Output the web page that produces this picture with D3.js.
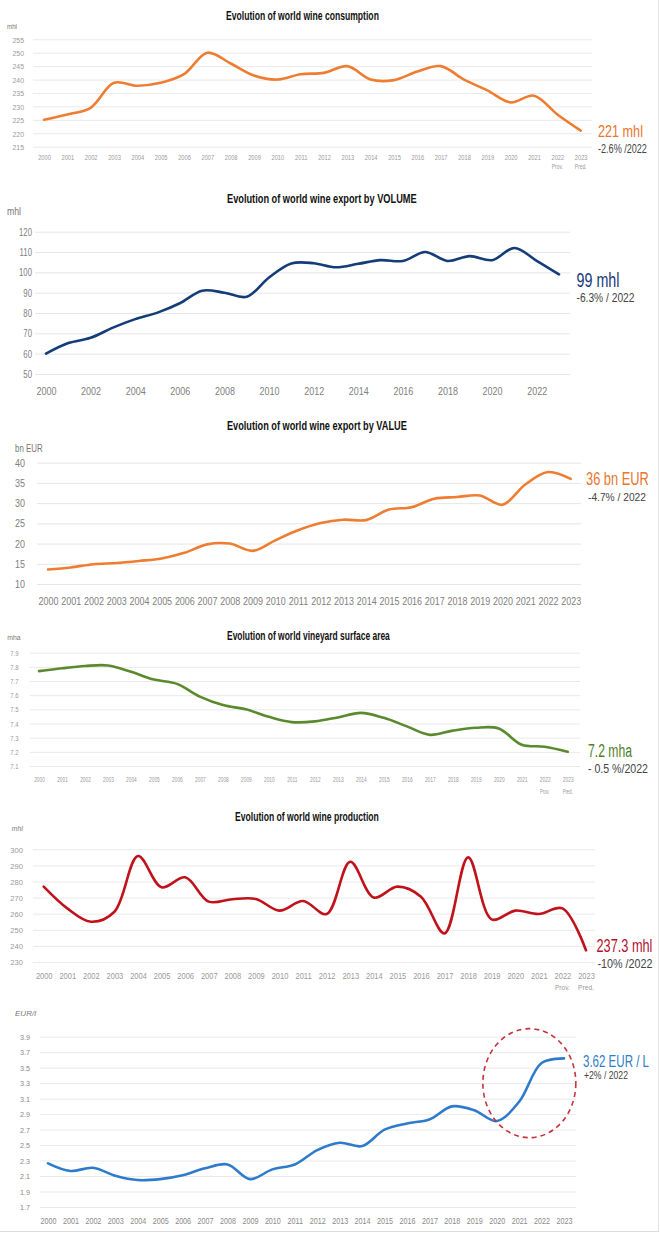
<!DOCTYPE html>
<html><head><meta charset="utf-8">
<script src="https://cdn.jsdelivr.net/npm/d3@7"></script>
<style>
body{margin:0;background:#fff;}
svg{display:block;}
text{font-family:"Liberation Sans","DejaVu Sans",sans-serif;}
</style></head><body>
<svg id="c" width="660" height="1233"></svg>
<script>
// ---------- DATA ----------
const years = ["2000","2001","2002","2003","2004","2005","2006","2007","2008","2009","2010","2011",
  "2012","2013","2014","2015","2016","2017","2018","2019","2020","2021","2022","2023"];
const evenYears = ["2000","2002","2004","2006","2008","2010","2012","2014","2016","2018","2020","2022"];

const consumption = [225,227,229.5,238.8,237.7,238.8,242,250,246,241.5,240,242,242.5,245,240,239.8,243,245,240,236,231.5,234,227,221];
const consumptionTicks = [215,220,225,230,235,240,245,250,255];

const exportVolume = [60,65.2,67.8,72.8,77,80.2,84.8,91,90,88,97.5,104.4,104.5,102.5,104.2,106,105.6,110,105.6,108,106,112,105.7,99];
const exportVolumeTicks = [50,60,70,80,90,100,110,120];

const exportValue = [13.6,14.1,14.9,15.2,15.7,16.3,17.7,19.8,20.0,18.2,20.8,23.3,25.1,25.9,25.8,28.4,29.0,31.1,31.5,31.9,29.6,34.6,37.7,36];
const exportValueTicks = [10,15,20,25,30,35,40];

const vineyard = [7.77,7.79,7.806,7.81,7.765,7.71,7.68,7.59,7.53,7.50,7.447,7.41,7.415,7.443,7.475,7.44,7.38,7.32,7.35,7.37,7.365,7.25,7.236,7.2];
const vineyardTicks = [7.1,7.2,7.3,7.4,7.5,7.6,7.7,7.8,7.9];

const production = [276.8,263.3,255,261.2,295.8,276.4,282.6,267.5,269,269.1,261.9,267.9,259.8,292.3,270,276.8,270.6,247.8,295,256.5,261.9,259.8,263.3,237.3];
const productionTicks = [230,240,250,260,270,280,290,300];

const price = [2.264,2.165,2.207,2.104,2.048,2.06,2.11,2.2,2.25,2.06,2.186,2.25,2.435,2.53,2.487,2.70,2.78,2.83,3.0,2.95,2.81,3.06,3.56,3.62];
const priceTicks = [1.7,1.9,2.1,2.3,2.5,2.7,2.9,3.1,3.3,3.5,3.7,3.9];

const provPredLabels = ["Prov.","Pred."];

// ---------- HELPERS ----------
const svg = d3.select("#c");

function fitText(sel, x, y, w){
  const L = sel.node().getComputedTextLength();
  sel.attr("x",0).attr("y",0).attr("transform",`translate(${x},${y}) scale(${w/L},1)`);
}
function fitTicks(gsel, sampleNode, w){
  const sx = w / sampleNode.getComputedTextLength();
  gsel.selectAll("text").each(function(){
    const t = d3.select(this);
    const xx = +t.attr("x") || 0;
    t.attr("x", xx/sx).attr("transform",`scale(${sx},1)`);
  });
  return sx;
}

function panel(o){
  const g = svg.append("g");
  const x = d3.scalePoint().domain(years).range([o.x0,o.x1]);
  const y = d3.scaleLinear().domain(o.domain).range([o.yb,o.yt]);

  const ga = g.append("g").attr("transform",`translate(${o.gl},0)`)
    .call(d3.axisLeft(y).tickValues(o.ticks).tickSize(-(o.gr-o.gl)).tickPadding(o.gl-o.lr)
      .tickFormat(o.fmt||d3.format("d")));
  ga.select(".domain").remove();
  ga.selectAll("line").attr("stroke",o.gridColor||"#e9e9e9").attr("stroke-width",1);
  ga.selectAll("text").attr("fill",o.tickColor).style("font-size",o.yfs+"px").attr("dy","0.35em");
  const yt = ga.selectAll("text").nodes();
  fitTicks(ga, yt[yt.length-1], o.yw);

  const gx = g.append("g").attr("transform",`translate(0,${o.xly})`)
    .call(d3.axisBottom(x).tickValues(o.xticks||years).tickSize(0).tickPadding(0));
  gx.select(".domain").remove();
  gx.selectAll("text").attr("fill",o.tickColor).attr("dy","0").attr("y",0).style("font-size",o.xfs+"px");
  const sx = fitTicks(gx, gx.select("text").node(), o.xw);

  if(o.prov){
    g.selectAll("text.pp").data(provPredLabels).enter().append("text")
      .attr("class","pp")
      .attr("x",(d,i)=>x(years[22+i])/sx).attr("y",o.prov).attr("text-anchor","middle")
      .attr("transform",`scale(${sx},1)`)
      .attr("fill",o.tickColor).style("font-size",(o.xfs-1)+"px").text(d=>d);
  }

  const u = g.append("text").attr("fill",o.unitColor||"#777")
    .style("font-size",o.ufs+"px").style("font-style",o.uit?"italic":"normal").text(o.unit);
  fitText(u, o.ux, o.uy, o.uw);

  if(o.title){
    const t = g.append("text").attr("fill","#111")
      .style("font-size","13.5px").style("font-weight","bold").text(o.title);
    fitText(t, o.tx, o.ty, o.tw);
  }

  const line = d3.line().x((d,i)=>x(years[i])).y(d=>y(d)).curve(d3.curveCatmullRom.alpha(0.5));
  g.append("path").datum(o.values).attr("d",line).attr("fill","none")
    .attr("stroke",o.color).attr("stroke-width",2.6).attr("stroke-linecap","round").attr("stroke-linejoin","round");

  const a1 = g.append("text").attr("fill",o.acolor).style("font-size",o.a1fs+"px").text(o.a1);
  fitText(a1, o.ax, o.a1y, o.a1w);
  const a2 = g.append("text").attr("fill","#444").style("font-size",o.a2fs+"px").text(o.a2);
  fitText(a2, o.ax2||o.ax, o.a2y, o.a2w);
  return {x,y,g};
}

panel({x0:44,x1:580.7,domain:[215,255],yb:146.7,yt:39.3,ticks:consumptionTicks,gl:33,gr:592,lr:24,
  yfs:8,yw:11.6,xfs:7.5,xw:12.7,xly:160,tickColor:"#9a9a9a",prov:169.5,unit:"mhl",ux:7,uy:29,ufs:8,uw:10,
  title:"Evolution of world wine consumption",tx:226,ty:20,tw:153,
  values:consumption,color:"#EE7D31",acolor:"#E8762D",ax:598,a1:"221 mhl",a1y:137,a1fs:17,a1w:45,
  a2:"-2.6% /2022",a2y:152.5,a2fs:12,a2w:49});

panel({x0:46,x1:559,domain:[50,120],yb:374,yt:231.7,ticks:exportVolumeTicks,gl:35,gr:570,lr:32,
  yfs:10,yw:13,xfs:10.5,xw:20,xly:395,xticks:evenYears,tickColor:"#808080",unit:"mhl",ux:7,uy:215,ufs:10,uw:14,
  title:"Evolution of world wine export by VOLUME",tx:227,ty:202.5,tw:190,gridColor:"#e6e6e6",
  values:exportVolume,color:"#143C78",acolor:"#163A78",ax:576.5,a1:"99 mhl",a1y:287,a1fs:20,a1w:43,
  a2:"-6.3% / 2022",a2y:302,a2fs:12.5,a2w:58});

panel({x0:48,x1:570.7,domain:[10,40],yb:584,yt:462.7,ticks:exportValueTicks,gl:37,gr:581,lr:25,
  yfs:10,yw:10,xfs:11,xw:20,xly:604.5,tickColor:"#808080",unit:"bn EUR",ux:15,uy:452,ufs:10,uw:27.7,
  title:"Evolution of world wine export by VALUE",tx:227,ty:430,tw:180,gridColor:"#e6e6e6",
  values:exportValue,color:"#EE7D31",acolor:"#E8762D",ax:586,a1:"36 bn EUR",a1y:485,a1fs:18,a1w:63,
  ax2:588,a2:"-4.7% / 2022",a2y:500.7,a2fs:11,a2w:58});

panel({x0:39,x1:567.7,domain:[7.1,7.9],yb:766,yt:652.7,ticks:vineyardTicks,gl:30,gr:580,lr:18.5,fmt:d3.format(".1f"),
  yfs:7.5,yw:8.3,xfs:8,xw:10.7,xly:782,tickColor:"#9a9a9a",prov:794,unit:"mha",ux:7.3,uy:640,ufs:8,uw:13.4,
  title:"Evolution of world vineyard surface area",tx:227,ty:639.5,tw:163,
  values:vineyard,color:"#5B8A2E",acolor:"#4E7F26",ax:588,a1:"7.2 mha",a1y:757,a1fs:18,a1w:44,
  a2:"- 0.5 %/2022",a2y:772.7,a2fs:13,a2w:60});

panel({x0:43.7,x1:586,domain:[230,300],yb:962,yt:849.3,ticks:productionTicks,gl:33,gr:595,lr:23,
  yfs:8,yw:12.7,xfs:9,xw:16.7,xly:979,tickColor:"#9a9a9a",prov:990.5,unit:"mhl",ux:11.7,uy:831,ufs:8,uit:true,uw:11,
  title:"Evolution of world wine production",tx:235,ty:820.5,tw:144,
  values:production,color:"#C0121B",acolor:"#B3102E",ax:596.5,a1:"237.3 mhl",a1y:951.7,a1fs:18,a1w:56,
  ax2:597.5,a2:"-10% /2022",a2y:967.7,a2fs:13,a2w:55});

const p6 = panel({x0:48,x1:564,domain:[1.7,3.9],yb:1207,yt:1036.7,ticks:priceTicks,gl:40,gr:576,lr:30,fmt:d3.format(".1f"),
  yfs:7.5,yw:10,xfs:9,xw:16,xly:1224,tickColor:"#8a8a8a",unit:"EUR/l",ux:15,uy:1016,ufs:8,uit:true,uw:21,
  values:price,color:"#2E7BCB",acolor:"#2F7CC7",ax:583,a1:"3.62 EUR / L",a1y:1066.7,a1fs:17,a1w:66,
  ax2:584,a2:"+2% / 2022",a2y:1079.3,a2fs:10.5,a2w:44});

{
  const cx = (p6.x("2021")+p6.x("2022"))/2 - 1;
  const cy = p6.y(3.3);
  p6.g.append("ellipse").attr("cx",cx).attr("cy",cy).attr("rx",46.5).attr("ry",54.5)
    .attr("fill","none").attr("stroke","#C8313B").attr("stroke-width",1.6).attr("stroke-dasharray","5,4");
}

svg.append("line").attr("x1",658.5).attr("x2",658.5).attr("y1",0).attr("y2",1232).attr("stroke","#e4e4e4");
svg.append("line").attr("x1",0).attr("x2",659).attr("y1",1231.5).attr("y2",1231.5).attr("stroke","#dcdcdc");
</script></body></html>
